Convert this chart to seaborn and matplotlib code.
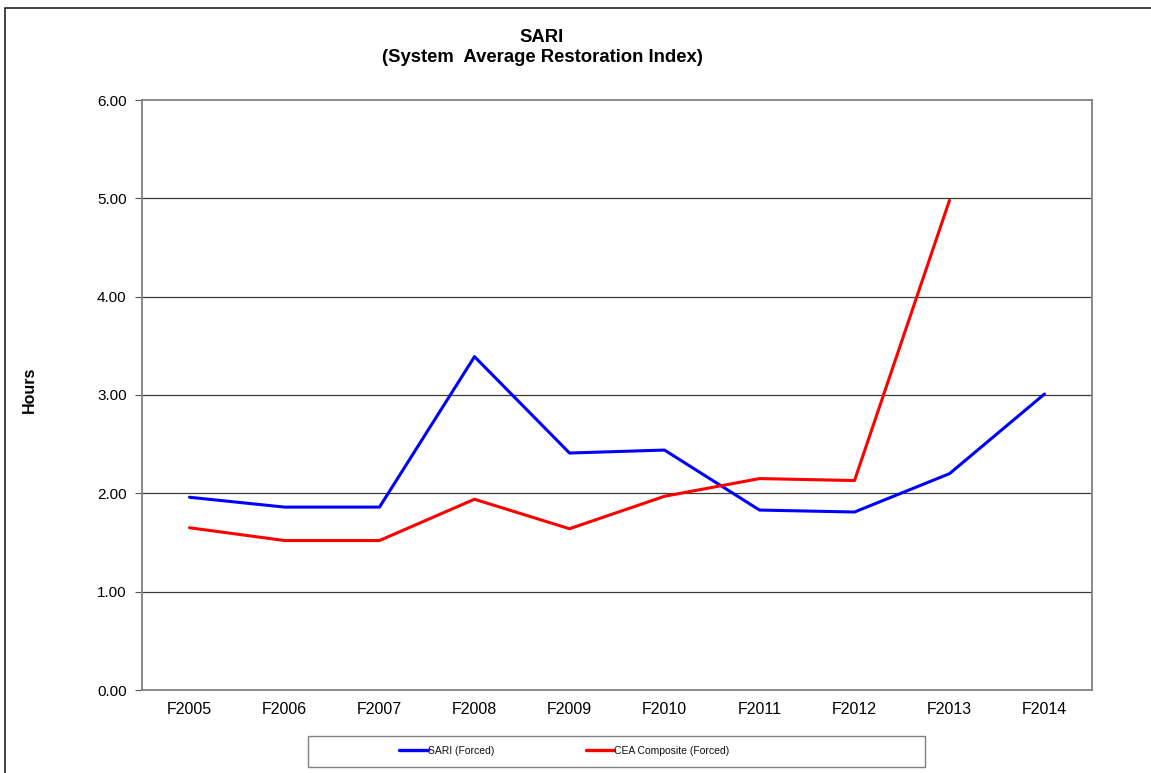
import numpy as np
import pandas as pd
import seaborn as sns
import matplotlib.pyplot as plt
from matplotlib.patches import Rectangle

# データ
years = ["F2005", "F2006", "F2007", "F2008", "F2009",
         "F2010", "F2011", "F2012", "F2013", "F2014"]
sari_forced = [1.96, 1.86, 1.86, 3.39, 2.41, 2.44, 1.83, 1.81, 2.20, 3.01]
cea_forced = [1.65, 1.52, 1.52, 1.94, 1.64, 1.97, 2.15, 2.13, 4.98, np.nan]
series_names = ["SARI (Forced)", "CEA Composite (Forced)"]
y_ticks = [0, 1, 2, 3, 4, 5, 6]

df = pd.DataFrame({
    "year": years * 2,
    "pos": list(range(len(years))) * 2,
    "hours": sari_forced + cea_forced,
    "series": [series_names[0]] * len(years) + [series_names[1]] * len(years),
})

sns.set_style("white")
plt.rcParams["font.family"] = ["Liberation Sans", "DejaVu Sans"]
plt.rcParams["text.color"] = "black"
plt.rcParams["xtick.labelcolor"] = "black"
plt.rcParams["ytick.labelcolor"] = "black"

W, H = 1151, 773
fig = plt.figure(figsize=(W / 100, H / 100), dpi=100)
ax = fig.add_axes([142 / W, 1 - 690 / H, 950 / W, 590 / H])

sns.lineplot(data=df, x="pos", y="hours", hue="series",
             palette={series_names[0]: "#0000FF", series_names[1]: "#FF0000"},
             linewidth=2.2, sort=False, ax=ax, legend=False)

ax.set_xlim(-0.5, len(years) - 0.5)
ax.set_ylim(0, 6)
ax.set_yticks(y_ticks)
ax.set_yticklabels([f"{v:.2f}" for v in y_ticks], fontsize=11)
ax.set_xticks(range(len(years)))
ax.set_xticklabels(years, fontsize=11.5)
ax.set_xticks(np.arange(-0.5, len(years)), minor=True)
ax.tick_params(axis="x", which="major", length=0, pad=9)
ax.tick_params(axis="x", which="minor", length=5, color="#555555", direction="out")
ax.tick_params(axis="y", length=5, color="#555555", direction="out", left=True, pad=6)
ax.set_xlabel("")
ax.set_ylabel("")
fig.text(29 / W, 1 - 390 / H, "Hours", rotation=90, fontsize=11.5,
         fontweight="bold", ha="center", va="center")

for v in y_ticks[1:-1]:
    ax.axhline(v, color="#3a3a3a", linewidth=0.9, zorder=0)

for s in ax.spines.values():
    s.set_color("#808080")
    s.set_linewidth(1.3)

# タイトル
fig.text(542 / W, 1 - 37 / H, "SARI", fontsize=13.3, fontweight="bold",
         ha="center", va="center")
fig.text(542 / W, 1 - 58 / H, "(System  Average Restoration Index)", fontsize=13.3,
         fontweight="bold", ha="center", va="center")

# 凡例
handles = [plt.Line2D([], [], color="#0000FF", linewidth=2.4),
           plt.Line2D([], [], color="#FF0000", linewidth=2.4)]
leg = fig.legend(handles, series_names, loc="center left",
                 bbox_to_anchor=(399 / W, 1 - 751 / H),
                 ncol=2, fontsize=7.5, frameon=False,
                 handlelength=2.75, handletextpad=0.0,
                 borderaxespad=0, borderpad=0, columnspacing=8.8)
for t in leg.get_texts():
    t.set_color("#111111")
fig.patches.append(Rectangle((308 / W, 1 - 767 / H), 617 / W, 31 / H,
                             transform=fig.transFigure, fill=False,
                             edgecolor="#808080", linewidth=1.0))

# 外枠
fig.patches.append(Rectangle((5 / W, -0.05), 1.2, 1.05 - 8 / H, transform=fig.transFigure,
                             fill=False, edgecolor="#222222", linewidth=1.2))

fig.savefig("out.png", dpi=100)
